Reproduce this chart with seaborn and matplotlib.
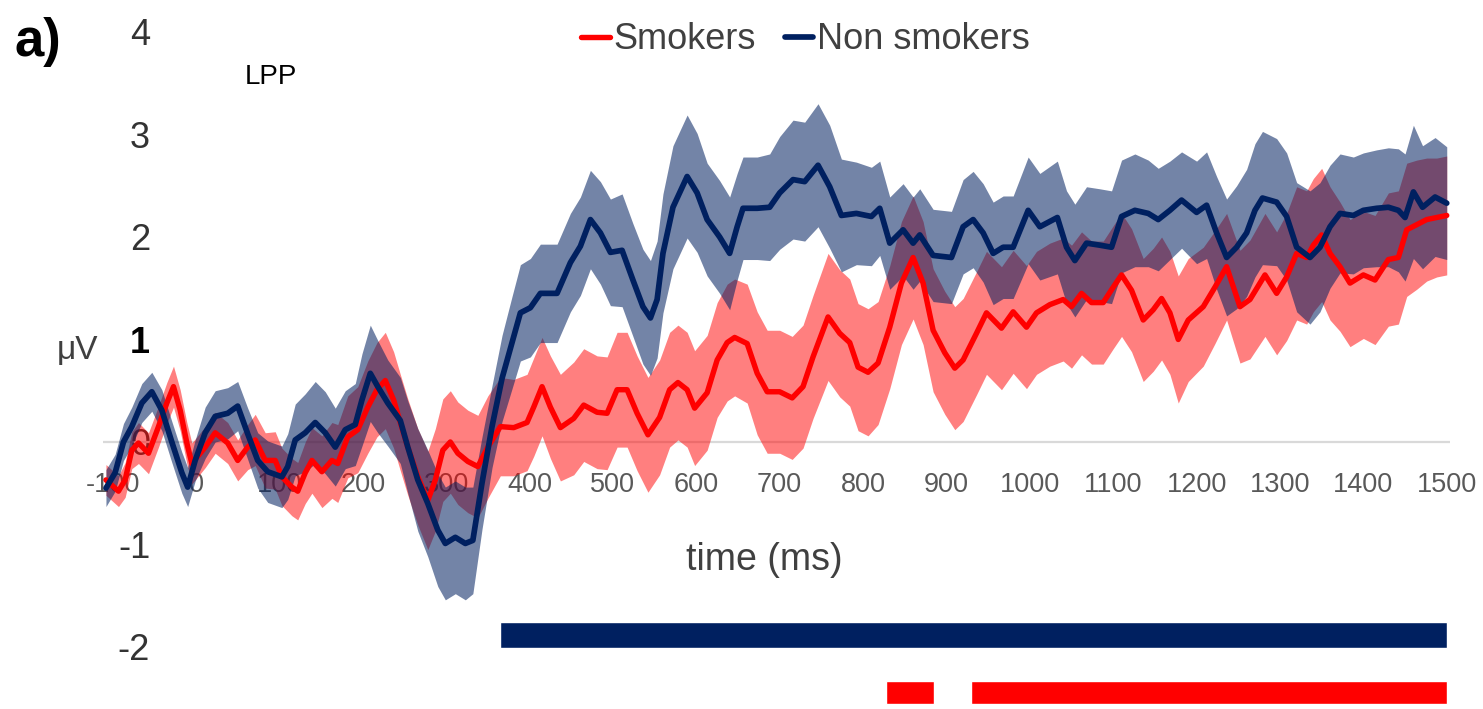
import numpy as np
import matplotlib
matplotlib.use("Agg")
import matplotlib.pyplot as plt
import seaborn as sns

# ---------------- data ----------------
# Non smokers: time (ms), mean (µV), standard error band (µV)
t_non = [-108, -97, -87, -77, -65, -53, -41, -29, -17, -10, -1,
         11, 23, 38, 50, 62, 74, 86, 103,
         110, 119, 131, 143, 155, 167, 179, 191,
         199, 209, 218, 230, 245, 254,
         266, 278, 290, 299, 311, 323, 332, 343,
         355, 367, 379, 389, 401, 413,
         433, 449, 461, 473, 485, 497, 511, 524,
         536, 545, 553, 560, 572, 589, 601, 613,
         628, 640, 649, 656, 673, 688, 700,
         716, 730, 746, 760, 774, 792, 810, 820,
         832, 848, 860, 868, 884, 906,
         920, 932, 944, 956, 968, 980, 998,
         1012, 1033, 1044, 1054, 1068, 1084, 1098,
         1110, 1126, 1142, 1154, 1168, 1182, 1200, 1212,
         1224, 1236, 1248, 1260, 1270, 1279, 1296, 1308,
         1320, 1336, 1348, 1360, 1372, 1388, 1400, 1416,
         1430, 1442, 1450, 1460, 1471, 1486, 1500]
non_mean = [-0.45, -0.30, 0.00, 0.15, 0.38, 0.49, 0.31, 0.00, -0.30, -0.44, -0.18,
            0.09, 0.25, 0.28, 0.35, 0.08, -0.18, -0.29, -0.34,
            -0.24, 0.02, 0.09, 0.19, 0.09, -0.05, 0.12, 0.17,
            0.41, 0.67, 0.54, 0.38, 0.21, -0.05,
            -0.37, -0.60, -0.86, -0.99, -0.93, -0.99, -0.96, -0.40,
            0.15, 0.62, 0.97, 1.26, 1.31, 1.45,
            1.45, 1.75, 1.91, 2.17, 2.04, 1.85, 1.87, 1.58,
            1.32, 1.21, 1.39, 1.84, 2.29, 2.59, 2.43, 2.17,
            2.00, 1.84, 2.10, 2.28, 2.28, 2.29, 2.43,
            2.56, 2.54, 2.70, 2.49, 2.21, 2.23, 2.20, 2.28,
            1.94, 2.07, 1.94, 2.02, 1.82, 1.80,
            2.10, 2.17, 2.04, 1.84, 1.90, 1.90, 2.26,
            2.10, 2.19, 1.90, 1.77, 1.94, 1.92, 1.90,
            2.20, 2.26, 2.23, 2.17, 2.26, 2.36, 2.24, 2.31,
            2.04, 1.80, 1.90, 2.04, 2.26, 2.38, 2.34, 2.20,
            1.90, 1.80, 1.90, 2.10, 2.23, 2.21, 2.26, 2.28,
            2.29, 2.26, 2.19, 2.44, 2.29, 2.39, 2.33]
non_se = [0.18, 0.18, 0.18, 0.19, 0.19, 0.19, 0.20, 0.20, 0.20, 0.19, 0.20,
          0.25, 0.25, 0.25, 0.24, 0.25, 0.27, 0.30, 0.30,
          0.32, 0.35, 0.38, 0.40, 0.40, 0.38, 0.38, 0.40,
          0.45, 0.47, 0.45, 0.42, 0.42, 0.45,
          0.50, 0.52, 0.55, 0.55, 0.55, 0.55, 0.52, 0.45,
          0.40, 0.42, 0.45, 0.47, 0.48, 0.48,
          0.48, 0.48, 0.48, 0.48, 0.50, 0.52, 0.55, 0.55,
          0.56, 0.56, 0.57, 0.58, 0.60, 0.60, 0.58, 0.55,
          0.55, 0.55, 0.52, 0.50, 0.50, 0.52, 0.55,
          0.58, 0.58, 0.60, 0.60, 0.55, 0.50, 0.48, 0.46,
          0.45, 0.45, 0.45, 0.45, 0.45, 0.45,
          0.46, 0.47, 0.48, 0.50, 0.50, 0.50, 0.52,
          0.52, 0.55, 0.55, 0.55, 0.55, 0.55, 0.55,
          0.55, 0.55, 0.52, 0.50, 0.48, 0.47, 0.50, 0.52,
          0.55, 0.57, 0.60, 0.62, 0.65, 0.65, 0.62, 0.62,
          0.63, 0.65, 0.63, 0.60, 0.58, 0.57, 0.56, 0.57,
          0.58, 0.60, 0.62, 0.65, 0.60, 0.58, 0.55]

# Smokers
t_smk = [-108, -93, -85, -77, -69, -57, -45, -35, -27, -19, -11,
         -5, 2, 11, 23, 38, 50, 62, 71, 83, 95,
         103, 115, 122, 131, 139, 151, 163, 170, 182, 194,
         206, 217, 227, 237, 245, 254, 266, 278, 287, 296,
         305, 314, 326, 338, 350, 365, 381, 397,
         405, 415, 425, 437, 453, 465, 481, 493, 505,
         517, 529, 542, 556, 568, 578, 589, 598, 613,
         625, 637, 646, 661, 673, 685, 700, 715, 728,
         740, 758, 772, 784, 794, 806, 818, 832,
         846, 860, 872, 884, 898, 910, 920, 936, 948,
         966, 980, 996, 1008, 1024, 1040, 1050, 1062,
         1074, 1088, 1100, 1110, 1122, 1136, 1148, 1158, 1168,
         1178, 1190, 1208, 1222, 1236, 1252, 1264, 1282,
         1296, 1308, 1320, 1332, 1340, 1350, 1360, 1372, 1384,
         1400, 1414, 1430, 1442, 1452, 1464, 1476, 1488, 1500]
smk_mean = [-0.37, -0.48, -0.37, -0.08, -0.01, -0.11, 0.15, 0.38, 0.54, 0.31, -0.01,
            -0.21, -0.14, -0.05, 0.09, -0.01, -0.18, -0.05, 0.02, -0.18, -0.18,
            -0.34, -0.44, -0.48, -0.30, -0.18, -0.29, -0.18, -0.21, 0.05, 0.12,
            0.34, 0.51, 0.60, 0.41, 0.19, -0.05, -0.34, -0.57, -0.37, -0.08,
            0.00, -0.11, -0.19, -0.24, -0.05, 0.15, 0.14, 0.19,
            0.34, 0.54, 0.34, 0.14, 0.23, 0.36, 0.29, 0.28, 0.51,
            0.51, 0.28, 0.07, 0.24, 0.51, 0.58, 0.51, 0.33, 0.48,
            0.80, 0.97, 1.02, 0.96, 0.67, 0.49, 0.49, 0.43, 0.54,
            0.83, 1.22, 1.06, 0.97, 0.73, 0.68, 0.77, 1.12,
            1.55, 1.80, 1.55, 1.09, 0.87, 0.72, 0.80, 1.06, 1.26,
            1.11, 1.27, 1.12, 1.26, 1.34, 1.39, 1.32, 1.45,
            1.36, 1.36, 1.51, 1.63, 1.48, 1.19, 1.29, 1.40, 1.26,
            1.00, 1.19, 1.32, 1.51, 1.71, 1.32, 1.39, 1.63,
            1.45, 1.61, 1.84, 1.80, 1.92, 2.02, 1.84, 1.71, 1.55,
            1.63, 1.58, 1.78, 1.80, 2.07, 2.12, 2.17, 2.19, 2.21]
smk_se = [0.15, 0.15, 0.17, 0.18, 0.20, 0.20, 0.20, 0.20, 0.20, 0.20, 0.20,
          0.20, 0.20, 0.20, 0.20, 0.20, 0.20, 0.22, 0.25, 0.27, 0.28,
          0.28, 0.28, 0.28, 0.30, 0.32, 0.35, 0.37, 0.38, 0.40, 0.42,
          0.45, 0.46, 0.47, 0.47, 0.47, 0.47, 0.47, 0.48, 0.50, 0.50,
          0.50, 0.50, 0.50, 0.50, 0.50, 0.48, 0.47, 0.47,
          0.48, 0.48, 0.50, 0.52, 0.55, 0.55, 0.55, 0.55, 0.56,
          0.56, 0.56, 0.56, 0.56, 0.56, 0.56, 0.56, 0.56, 0.56,
          0.56, 0.57, 0.57, 0.58, 0.60, 0.60, 0.60, 0.60, 0.60,
          0.60, 0.62, 0.62, 0.62, 0.62, 0.62, 0.60, 0.60,
          0.60, 0.60, 0.60, 0.60, 0.60, 0.60, 0.60, 0.60, 0.60,
          0.60, 0.60, 0.60, 0.60, 0.60, 0.60, 0.60, 0.60,
          0.60, 0.60, 0.60, 0.60, 0.60, 0.60, 0.60, 0.60, 0.60,
          0.62, 0.60, 0.58, 0.55, 0.52, 0.55, 0.58, 0.60,
          0.60, 0.62, 0.65, 0.65, 0.65, 0.65, 0.65, 0.63, 0.62,
          0.62, 0.63, 0.65, 0.65, 0.65, 0.63, 0.60, 0.58, 0.58]

# significance windows (ms)
non_sig_start = [365]
non_sig_end = [1500]
smk_sig_start = [828, 930]
smk_sig_end = [885, 1500]

x_ticks = [-100, 0, 100, 200, 300, 400, 500, 600, 700, 800, 900,
           1000, 1100, 1200, 1300, 1400, 1500]
y_ticks = [-2, -1, 0, 1, 2, 3, 4]

RED = "#FF0000"
NAVY = "#002060"

# ---------------- plot ----------------
sns.set_theme(style="white")
plt.rcParams["font.family"] = ["Liberation Sans", "DejaVu Sans"]

fig = plt.figure(figsize=(14.83, 7.09), dpi=100)
ax = fig.add_axes([0.0692, 0.0, 0.9086, 1.0])
ax.set_xlim(-112, 1504)
ax.set_ylim(-2.605, 4.312)

ax.axhline(0, color="#D9D9D9", lw=1.6, zorder=0.8)

ts, ms, ss = np.array(t_smk), np.array(smk_mean), np.array(smk_se)
tn, mn, sn = np.array(t_non), np.array(non_mean), np.array(non_se)

ax.fill_between(ts, ms - ss, ms + ss, color=RED, alpha=0.5, lw=0, zorder=1)
ax.fill_between(tn, mn - sn, mn + sn, color=NAVY, alpha=0.55, lw=0, zorder=1.1)

sns.lineplot(x=ts, y=ms, color=RED, linewidth=3.9, ax=ax, label="Smokers",
             sort=False, zorder=2, solid_joinstyle="round")
sns.lineplot(x=tn, y=mn, color=NAVY, linewidth=4.1, ax=ax, label="Non smokers",
             sort=False, zorder=2.1, solid_joinstyle="round")

# significance bars
ax.barh(y=[-1.883] * len(non_sig_start),
        width=np.array(non_sig_end) - np.array(non_sig_start),
        left=non_sig_start, height=0.254, color=NAVY, zorder=2)
ax.barh(y=[-2.44] * len(smk_sig_start),
        width=np.array(smk_sig_end) - np.array(smk_sig_start),
        left=smk_sig_start, height=0.224, color=RED, zorder=2)

# axes styling
for sp in ax.spines.values():
    sp.set_visible(False)
ax.spines["bottom"].set_position(("data", 0))
ax.spines["left"].set_position(("data", -50))
ax.set_axisbelow(True)

ax.set_xticks(x_ticks)
ax.set_xticklabels([str(v) for v in x_ticks])
ax.tick_params(axis="x", length=0, pad=21.5, labelsize=19.5, labelcolor="#595959")
ax.set_yticks(y_ticks)
ax.set_yticklabels([str(v) for v in y_ticks])
ax.tick_params(axis="y", length=0, pad=3, labelsize=26, labelcolor="#333333")
for lab in ax.get_yticklabels():
    if lab.get_text() == "1":
        lab.set_fontweight("bold")
        lab.set_color("black")
ax.grid(False)

ax.set_xlabel("time (ms)", fontsize=27, color="#404040")
ax.xaxis.set_label_coords(0.491, 0.21)
ax.xaxis.label.set_va("center")

ax.set_ylabel("μV", rotation=0, fontsize=24, color="#404040")
ax.yaxis.set_label_coords(-0.019, 0.506)
ax.yaxis.label.set_va("center")
ax.yaxis.label.set_ha("center")

leg = ax.legend(loc="center", bbox_to_anchor=(0.543, 0.944),
                bbox_transform=fig.transFigure, ncol=2, frameon=False,
                fontsize=26, handlelength=0.8, handletextpad=0.1,
                columnspacing=0.8, labelcolor="#404040")

fig.text(271 / 1483, 1 - 77 / 709, "LPP", fontsize=20, ha="center",
         va="center", color="black")
fig.text(38 / 1483, 1 - 42 / 709, "a)", fontsize=38, fontweight="bold",
         ha="center", va="center", color="black")

fig.savefig("out.png", dpi=100)
